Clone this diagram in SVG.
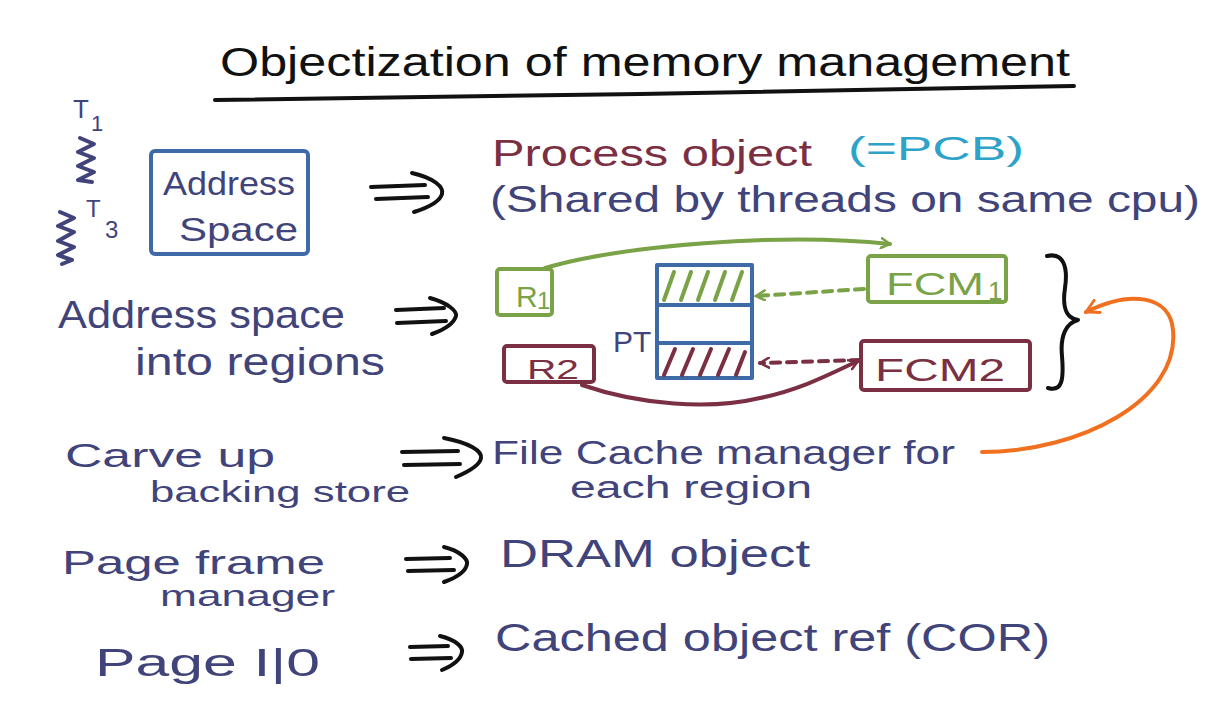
<svg xmlns="http://www.w3.org/2000/svg" width="1223" height="716" viewBox="0 0 1223 716">
<defs>
<style>
text{font-family:"Liberation Sans","DejaVu Sans",sans-serif;}
.ink{fill:#41447a;}
.blk{fill:#111;}
.mar{fill:#7a2f42;}
.cyan{fill:#2ea3c9;}
.grn{fill:#7aa247;}
.s{fill:none;stroke-linecap:round;stroke-linejoin:round;stroke-width:4;}
.k{stroke:#111;}
.b{stroke:#3f6aa8;}
.g{stroke:#7aa247;}
.m{stroke:#7a2f42;}
.o{stroke:#f07020;}
.n{stroke:#41447a;}
.d{stroke-dasharray:9 7;}
</style>
<marker id="ag" viewBox="0 0 12 12" refX="10" refY="6" markerWidth="12" markerHeight="12" markerUnits="userSpaceOnUse" orient="auto"><path d="M1,1 L10,6 L1,11" fill="none" stroke="#7aa247" stroke-width="2.5" stroke-linecap="round"/></marker>
<marker id="am" viewBox="0 0 12 12" refX="10" refY="6" markerWidth="12" markerHeight="12" markerUnits="userSpaceOnUse" orient="auto"><path d="M1,1 L10,6 L1,11" fill="none" stroke="#7a2f42" stroke-width="2.5" stroke-linecap="round"/></marker>
<marker id="ao" viewBox="0 0 14 14" refX="12" refY="7" markerWidth="16" markerHeight="16" markerUnits="userSpaceOnUse" orient="auto"><path d="M1,1 L12,7 L1,13" fill="none" stroke="#f07020" stroke-width="2.5" stroke-linecap="round"/></marker>
</defs>
<rect width="1223" height="716" fill="#fff"/>

<g id="title">
<text class="blk" x="220" y="76" font-size="40" textLength="850" lengthAdjust="spacingAndGlyphs">Objectization of memory management</text>
<path class="s k" d="M215,100 L640,94 L1074,86" stroke-width="4.5"/>
</g>

<g id="threads">
<text class="ink" x="73" y="118" font-size="26">T</text>
<text class="ink" x="91" y="131" font-size="22">1</text>
<path class="s n" d="M80,138 L94,144 L78,152 L94,158 L78,166 L94,172 L78,180 L92,182"/>
<text class="ink" x="86" y="217" font-size="24">T</text>
<text class="ink" x="105" y="238" font-size="24">3</text>
<path class="s n" d="M60,212 L74,218 L58,226 L74,232 L58,241 L74,247 L58,255 L72,260 L62,264"/>
</g>

<g id="address-space-box">
<rect class="s b" x="151" y="151" width="157" height="103" rx="4"/>
<text class="ink" x="163" y="195" font-size="34" textLength="132" lengthAdjust="spacingAndGlyphs">Address</text>
<text class="ink" x="179" y="241" font-size="34" textLength="119" lengthAdjust="spacingAndGlyphs">Space</text>
</g>

<g id="process-object">
<text class="mar" x="492" y="166" font-size="36" textLength="320" lengthAdjust="spacingAndGlyphs">Process object</text>
<text class="cyan" x="848" y="160" font-size="34" textLength="176" lengthAdjust="spacingAndGlyphs">(=PCB)</text>
<text class="ink" x="490" y="212" font-size="36" textLength="710" lengthAdjust="spacingAndGlyphs">(Shared by threads on same cpu)</text>
</g>

<g id="regions-label">
<text class="ink" x="58" y="328" font-size="38" textLength="287" lengthAdjust="spacingAndGlyphs">Address space</text>
<text class="ink" x="135" y="375" font-size="38" textLength="250" lengthAdjust="spacingAndGlyphs">into regions</text>
</g>

<g id="R1">
<rect class="s g" x="497" y="269" width="55" height="46" rx="3"/>
<text class="grn" x="516" y="307" font-size="30">R</text>
<text class="grn" x="537" y="309" font-size="24">1</text>
</g>

<g id="R2">
<rect class="s m" x="504" y="346" width="90" height="36" rx="3"/>
<text class="mar" x="527" y="379" font-size="28" textLength="52" lengthAdjust="spacingAndGlyphs">R2</text>
</g>

<g id="PT">
<text class="ink" x="613" y="352" font-size="30">PT</text>
<rect class="s b" x="657" y="265" width="95" height="113"/>
<path class="s b" d="M657,305 L752,305 M657,343 L752,343"/>
<path class="s g" stroke-width="3" d="M664,300 L674,272 M681,300 L691,272 M698,300 L708,272 M715,300 L725,272 M732,300 L742,272"/>
<path class="s m" stroke-width="3" d="M664,375 L675,349 M682,375 L693,349 M700,375 L711,349 M718,375 L729,349 M736,375 L745,352"/>
</g>

<g id="FCM1">
<rect class="s g" x="868" y="256" width="138" height="46" rx="3"/>
<text class="grn" x="886" y="295" font-size="32" textLength="98" lengthAdjust="spacingAndGlyphs">FCM</text>
<text class="grn" x="988" y="300" font-size="26">1</text>
</g>

<g id="FCM2">
<rect class="s m" x="861" y="341" width="169" height="49" rx="3"/>
<text class="mar" x="875" y="381" font-size="32" textLength="130" lengthAdjust="spacingAndGlyphs">FCM2</text>
</g>

<g id="brace">
<path class="s k" d="M1047,256 C1064,252 1068,268 1065,288 C1062,308 1066,318 1078,320 C1066,323 1060,336 1062,356 C1064,380 1062,392 1048,388"/>
</g>

<g id="bottom-labels">
<text class="ink" x="65" y="467" font-size="34" textLength="210" lengthAdjust="spacingAndGlyphs">Carve up</text>
<text class="ink" x="150" y="502" font-size="30" textLength="260" lengthAdjust="spacingAndGlyphs">backing store</text>
<text class="ink" x="492" y="464" font-size="34" textLength="463" lengthAdjust="spacingAndGlyphs">File Cache manager for</text>
<text class="ink" x="570" y="498" font-size="31" textLength="242" lengthAdjust="spacingAndGlyphs">each region</text>
<text class="ink" x="62" y="574" font-size="34" textLength="263" lengthAdjust="spacingAndGlyphs">Page frame</text>
<text class="ink" x="160" y="606" font-size="30" textLength="175" lengthAdjust="spacingAndGlyphs">manager</text>
<text class="ink" x="500" y="567" font-size="38" textLength="310" lengthAdjust="spacingAndGlyphs">DRAM object</text>
<text class="ink" x="95" y="676" font-size="38" textLength="225" lengthAdjust="spacingAndGlyphs">Page I|0</text>
<text class="ink" x="495" y="651" font-size="38" textLength="555" lengthAdjust="spacingAndGlyphs">Cached object ref (COR)</text>
</g>

<g id="connectors">
<path class="s k" stroke-width="4.5" d="M371,187 L425,185 M376,199 L428,197 M412,173 C434,178 444,187 442,194 C440,201 430,207 414,212"/>
<path class="s k" stroke-width="4.5" d="M396,310 L444,308 M397,323 L446,321 M430,298 C448,303 457,311 456,316 C454,323 446,329 432,334"/>
<path class="s k" stroke-width="4.5" d="M402,452 L458,451 M404,465 L460,464 M444,438 C470,443 482,451 481,458 C480,465 470,471 456,477"/>
<path class="s k" stroke-width="4.5" d="M406,559 L450,558 M408,571 L454,570 M444,547 C460,551 468,559 467,564 C466,571 458,577 444,582"/>
<path class="s k" stroke-width="4.5" d="M410,647 L448,646 M411,659 L451,658 M440,636 C456,640 463,647 462,652 C461,659 454,665 442,670"/>
<path class="s g" d="M545,268 C620,246 780,232 890,244" marker-end="url(#ag)"/>
<path class="s g d" d="M864,289 L756,296" marker-end="url(#ag)"/>
<path class="s m d" d="M860,360 L760,363" marker-end="url(#am)"/>
<path class="s m" d="M582,385 C640,405 710,410 760,398 C800,390 830,374 858,361" marker-end="url(#am)"/>
<path class="s o" stroke-width="3" d="M982,452 C1080,452 1180,400 1173,330 C1170,295 1130,290 1086,312" marker-end="url(#ao)"/>
</g>
</svg>
